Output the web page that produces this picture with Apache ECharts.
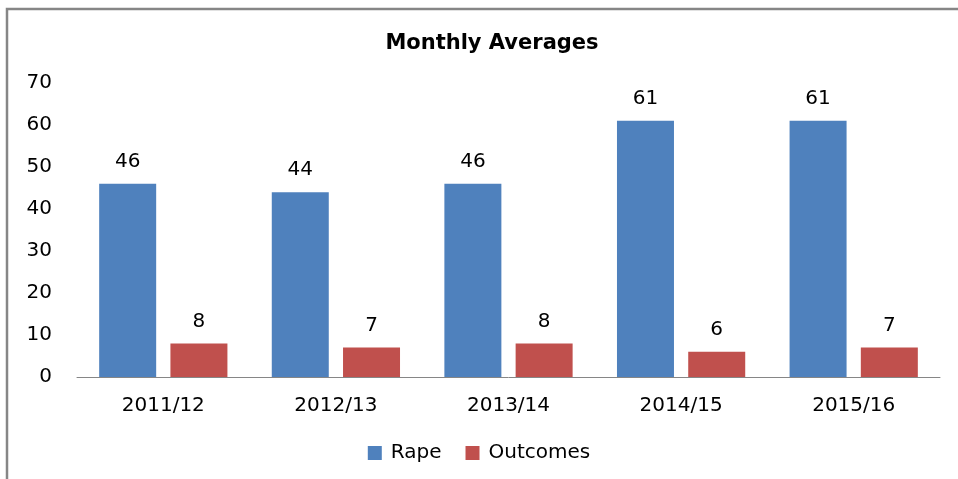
<!DOCTYPE html>
<html>
<head>
<meta charset="utf-8">
<script src="https://cdn.jsdelivr.net/npm/echarts@6/dist/echarts.min.js"></script>
<style>
html, body {margin:0; padding:0; background:#fff;}
#chart {width:958px; height:479px;}
</style>
</head>
<body>
<div id="chart"></div>
<script>
var years = ['2011/12', '2012/13', '2013/14', '2014/15', '2015/16'];
var rapeData = [46, 44, 46, 61, 61];
var outcomesData = [8, 7, 8, 6, 7];
var yTicks = [0, 10, 20, 30, 40, 50, 60, 70];

var myChart = echarts.init(document.getElementById('chart'));
var font = "'DejaVu Sans', Verdana, sans-serif";

var labelStyle = {show: true, position: 'top', distance: 12, color: '#000', fontFamily: font, fontSize: 20};

var option = {
    animation: false,
    backgroundColor: '#fff',
    graphic: [{
        type: 'rect',
        shape: {x: 7, y: 9, width: 1000, height: 600},
        style: {fill: 'none', stroke: '#868686', lineWidth: 2.5},
        silent: true
    }],
    title: {
        text: 'Monthly Averages',
        left: 487, top: 28, textAlign: 'center',
        textStyle: {fontFamily: font, fontSize: 21, fontWeight: 'bold', color: '#000'}
    },
    legend: {
        data: ['Rape', 'Outcomes'],
        top: 438, left: 'center',
        icon: 'rect', itemWidth: 14, itemHeight: 14, itemGap: 24,
        textStyle: {fontFamily: font, fontSize: 20, color: '#000', padding: [0, 0, 0, 4]}
    },
    grid: {left: 77, right: 18, top: 83, bottom: 102},
    xAxis: {
        type: 'category',
        data: years,
        axisLine: {show: true, lineStyle: {color: '#868686'}},
        axisTick: {show: false},
        axisLabel: {margin: 19, color: '#000', fontFamily: font, fontSize: 20}
    },
    yAxis: {
        type: 'value',
        min: yTicks[0], max: yTicks[yTicks.length - 1], interval: 10,
        axisLine: {show: false},
        axisTick: {show: false},
        splitLine: {show: false},
        axisLabel: {margin: 25, color: '#000', fontFamily: font, fontSize: 20}
    },
    series: [{
        name: 'Rape',
        type: 'bar',
        data: rapeData,
        barWidth: 57,
        barGap: '25%',
        itemStyle: {color: '#4F81BD'},
        label: labelStyle
    }, {
        name: 'Outcomes',
        type: 'bar',
        data: outcomesData,
        barWidth: 57,
        itemStyle: {color: '#C0504D'},
        label: labelStyle
    }]
};
myChart.setOption(option, true);
</script>
</body>
</html>
